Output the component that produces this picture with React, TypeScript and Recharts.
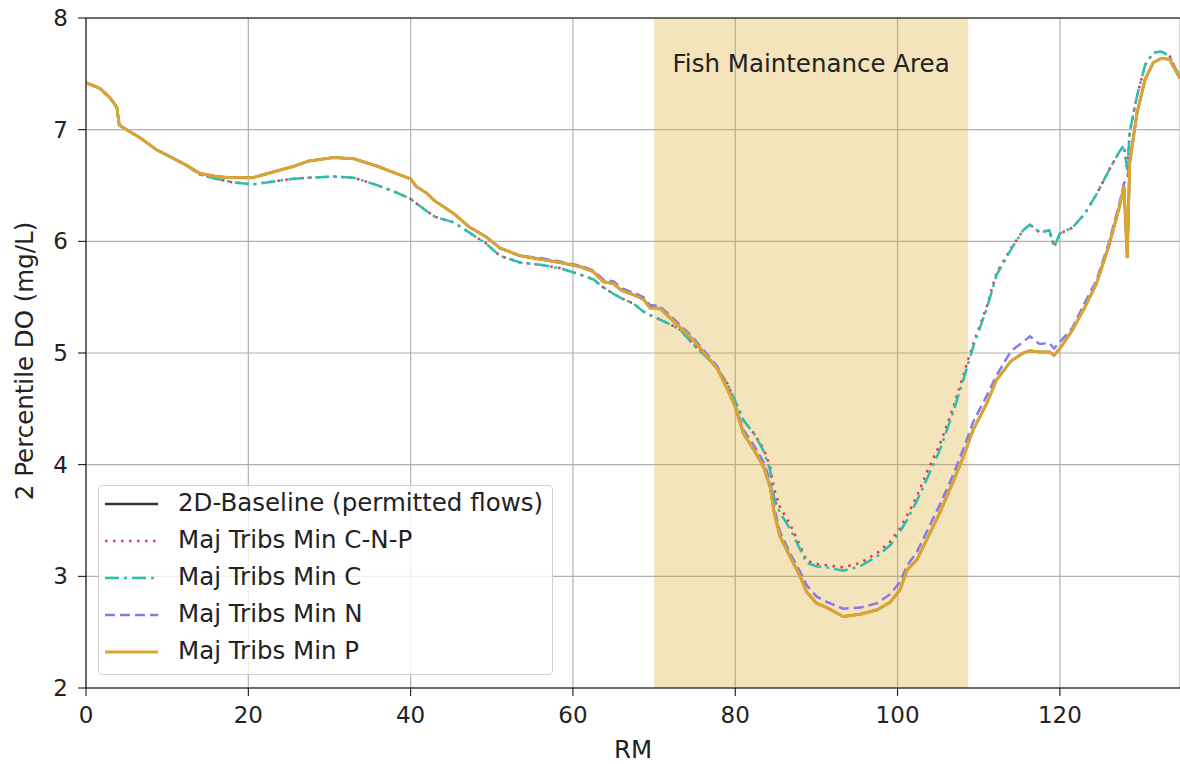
import { CartesianGrid, Line, LineChart, ReferenceArea, ReferenceLine, XAxis, YAxis } from "recharts";

// river mile positions shared by every run
const rm = [
  0, 1.7, 2.9, 3.8, 4.1, 5, 6.6, 8.7, 10.3, 12.4,
  14, 16, 18, 20.5, 22.5, 25.5, 27.5, 30.5, 33, 36,
  38.5, 40, 40.7, 42, 43, 45.3, 47.2, 49.3, 51, 53.5,
  56, 58.4, 61, 62.5, 63.7, 65, 66, 67.5, 68.7, 69.5,
  70.7, 71.6, 73.2, 74.8, 76.5, 77.8, 79, 80, 81, 82.4,
  83.5, 84.3, 84.8, 85.5, 86.8, 88, 88.8, 90, 91.3, 93.3,
  95.4, 97.5, 99.1, 100.3, 101.2, 102.4, 103.6, 105.2, 106.8, 108.1,
  109.3, 111, 112.2, 114, 115.5, 116.3, 117.5, 118.7, 119.3, 120,
  121.5, 123, 124.5, 126, 127.3, 127.9, 128.3, 128.6, 129.5, 130.5,
  131.5, 132.5, 133.5, 134.8,
];

const baseline = [
  7.42, 7.37, 7.29, 7.2, 7.04, 7.0, 6.93, 6.82, 6.76, 6.68,
  6.61, 6.58, 6.57, 6.57, 6.61, 6.67, 6.72, 6.75, 6.74, 6.67,
  6.6, 6.56, 6.49, 6.43, 6.36, 6.25, 6.13, 6.04, 5.94, 5.87,
  5.84, 5.81, 5.77, 5.73, 5.64, 5.62, 5.56, 5.52, 5.48, 5.41,
  5.4, 5.34, 5.23, 5.12, 4.97, 4.86, 4.68, 4.52, 4.28, 4.12,
  3.98, 3.8, 3.57, 3.36, 3.17, 3.0, 2.86, 2.76, 2.72, 2.64,
  2.66, 2.7, 2.77, 2.88, 3.06, 3.15, 3.33, 3.57, 3.84, 4.07,
  4.31, 4.55, 4.76, 4.93, 5.0, 5.02, 5.01, 5.01, 4.98, 5.04,
  5.2, 5.4, 5.62, 5.95, 6.3, 6.49, 5.85, 6.7, 7.15, 7.45,
  7.6, 7.64, 7.63, 7.46,
];

const minCNP = [
  7.42, 7.37, 7.29, 7.2, 7.04, 7.0, 6.93, 6.82, 6.76, 6.68,
  6.6, 6.56, 6.53, 6.51, 6.53, 6.56, 6.57, 6.58, 6.57, 6.5,
  6.43, 6.38, 6.34, 6.27, 6.22, 6.17, 6.08, 5.98, 5.87, 5.81,
  5.79, 5.76, 5.7, 5.66, 5.59, 5.53, 5.49, 5.44, 5.37, 5.34,
  5.3, 5.27, 5.21, 5.08, 4.96, 4.86, 4.73, 4.57, 4.4, 4.27,
  4.14, 3.98, 3.78, 3.62, 3.46, 3.27, 3.14, 3.11, 3.1, 3.08,
  3.12, 3.21, 3.31, 3.43, 3.55, 3.72, 3.93, 4.18, 4.5, 4.8,
  5.08, 5.42, 5.72, 5.94, 6.1, 6.15, 6.08, 6.1, 5.95, 6.07,
  6.12, 6.24, 6.42, 6.63, 6.8, 6.86, 6.64, 6.98, 7.3, 7.58,
  7.69, 7.7, 7.66, 7.47,
];

const minC = [
  7.42, 7.37, 7.29, 7.2, 7.04, 7.0, 6.93, 6.82, 6.76, 6.68,
  6.6, 6.56, 6.53, 6.51, 6.53, 6.56, 6.57, 6.58, 6.57, 6.5,
  6.43, 6.38, 6.34, 6.27, 6.22, 6.17, 6.08, 5.98, 5.87, 5.81,
  5.79, 5.76, 5.7, 5.66, 5.59, 5.53, 5.49, 5.44, 5.37, 5.34,
  5.3, 5.27, 5.21, 5.08, 4.96, 4.86, 4.73, 4.57, 4.4, 4.27,
  4.12, 3.95, 3.7, 3.57, 3.42, 3.24, 3.12, 3.09, 3.08, 3.05,
  3.09, 3.18, 3.28, 3.4, 3.51, 3.68, 3.87, 4.13, 4.46, 4.76,
  5.05, 5.4, 5.7, 5.93, 6.1, 6.15, 6.08, 6.1, 5.95, 6.07,
  6.12, 6.24, 6.42, 6.63, 6.8, 6.86, 6.64, 6.98, 7.3, 7.58,
  7.69, 7.7, 7.66, 7.47,
];

const minN = [
  7.42, 7.37, 7.29, 7.2, 7.04, 7.0, 6.93, 6.82, 6.76, 6.68,
  6.61, 6.58, 6.57, 6.57, 6.61, 6.67, 6.72, 6.75, 6.74, 6.67,
  6.6, 6.56, 6.49, 6.43, 6.36, 6.25, 6.13, 6.04, 5.94, 5.87,
  5.85, 5.82, 5.78, 5.74, 5.66, 5.64, 5.58, 5.54, 5.5, 5.43,
  5.42, 5.36, 5.25, 5.14, 4.99, 4.88, 4.7, 4.54, 4.31, 4.16,
  4.02, 3.85, 3.62, 3.4, 3.2, 3.04, 2.92, 2.82, 2.77, 2.71,
  2.72, 2.76, 2.84, 2.95, 3.1, 3.22, 3.4, 3.64, 3.9, 4.14,
  4.38, 4.62, 4.8, 5.02, 5.1, 5.15, 5.08, 5.09, 5.04, 5.1,
  5.22, 5.44, 5.65, 5.98, 6.33, 6.52, 6.56, 6.72, 7.15, 7.45,
  7.6, 7.64, 7.63, 7.46,
];

const minP = [
  7.42, 7.37, 7.29, 7.2, 7.04, 7.0, 6.93, 6.82, 6.76, 6.68,
  6.61, 6.58, 6.57, 6.57, 6.61, 6.67, 6.72, 6.75, 6.74, 6.67,
  6.6, 6.56, 6.49, 6.43, 6.36, 6.25, 6.13, 6.04, 5.94, 5.87,
  5.84, 5.81, 5.77, 5.73, 5.64, 5.62, 5.56, 5.52, 5.48, 5.4,
  5.4, 5.34, 5.23, 5.12, 4.97, 4.86, 4.68, 4.52, 4.28, 4.12,
  3.98, 3.8, 3.57, 3.36, 3.17, 3.0, 2.86, 2.76, 2.72, 2.64,
  2.66, 2.7, 2.77, 2.88, 3.06, 3.15, 3.33, 3.57, 3.84, 4.07,
  4.31, 4.55, 4.76, 4.93, 5.0, 5.02, 5.01, 5.01, 4.98, 5.04,
  5.2, 5.4, 5.62, 5.95, 6.3, 6.49, 5.85, 6.7, 7.15, 7.45,
  7.6, 7.64, 7.63, 7.46,
];

const xTicks = [0, 20, 40, 60, 80, 100, 120];
const yTicks = [2, 3, 4, 5, 6, 7, 8];
const fishArea = [70, 108.7];

const series = [
  { key: "base", name: "2D-Baseline (permitted flows)", color: "#333333", dash: undefined, width: 2.5 },
  { key: "cnp", name: "Maj Tribs Min C-N-P", color: "#e8364f", dash: "2.5 5.5", width: 2.5 },
  { key: "c", name: "Maj Tribs Min C", color: "#2fbdaf", dash: "14 5 3 5", width: 2.5 },
  { key: "n", name: "Maj Tribs Min N", color: "#8878f0", dash: "10 5", width: 2.5 },
  { key: "p", name: "Maj Tribs Min P", color: "#dba531", dash: undefined, width: 3 },
];

const data = rm.map((x, i) => ({
  rm: x,
  base: baseline[i],
  cnp: minCNP[i],
  c: minC[i],
  n: minN[i],
  p: minP[i],
}));

const FONT = "DejaVu Sans, sans-serif";
const TICK = 23;
const LABEL = 24.5;

function YLabel() {
  return (
    <text x={24} y={361} transform="rotate(-90 24 361)" textAnchor="middle" dominantBaseline="central"
      fontSize={LABEL} fontFamily={FONT} fill="#222">
      2 Percentile DO (mg/L)
    </text>
  );
}

function LegendBox() {
  return (
    <div
      style={{
        position: "absolute", left: 98, top: 485, width: 455, height: 190, boxSizing: "border-box",
        border: "1px solid #d0d0d0", borderRadius: 4, background: "rgba(255,255,255,0.8)",
        fontFamily: FONT, fontSize: LABEL, color: "#222",
      }}
    >
      {series.map((s, i) => (
        <div key={s.key} style={{ position: "absolute", left: 0, top: 17 + i * 37 - 14, height: 28, lineHeight: "28px", display: "flex", alignItems: "center" }}>
          <svg width={79} height={28} style={{ display: "block" }}>
            <line x1={6} x2={59} y1={15} y2={15} stroke={s.color} strokeWidth={s.width} strokeDasharray={s.dash} />
          </svg>
          <span style={{ whiteSpace: "nowrap" }}>{s.name}</span>
        </div>
      ))}
    </div>
  );
}

export default function App() {
  return (
    <div style={{ position: "absolute", left: 0, top: 0, width: 1180, height: 764, background: "#fff" }}>
      <LineChart width={1180} height={764} data={data} margin={{ top: 18, right: 0, bottom: 0, left: 0 }}>
        <ReferenceArea x1={fishArea[0]} x2={fishArea[1]} y1={2} y2={8} fill="#daa520" fillOpacity={0.3} stroke="none"
          label={{ value: "Fish Maintenance Area", position: "insideTop", offset: 37, fontSize: LABEL, fontFamily: FONT, fill: "#222" }} />
        <CartesianGrid stroke="#b0b0b0" strokeWidth={1.2} />
        <XAxis
          dataKey="rm" type="number" domain={[0, 134.8]} ticks={xTicks} allowDataOverflow
          height={76} tickSize={8} tickMargin={11} stroke="#000"
          tick={{ fontSize: TICK, fontFamily: FONT, fill: "#222" }}
          label={{ value: "RM", position: "insideBottom", offset: 6, fontSize: LABEL, fontFamily: FONT, fill: "#222" }}
        />
        <YAxis
          type="number" domain={[2, 8]} ticks={yTicks} allowDataOverflow width={86} tickSize={8} tickMargin={10} stroke="#000"
          tick={{ fontSize: TICK, fontFamily: FONT, fill: "#222" }}
          label={<YLabel />}
        />
        <ReferenceLine y={8} stroke="#000" strokeWidth={1} />
        {series.map((s) => (
          <Line
            key={s.key} dataKey={s.key} name={s.name} type="linear" dot={false} activeDot={false}
            stroke={s.color} strokeWidth={s.width} strokeDasharray={s.dash} isAnimationActive={false}
          />
        ))}
      </LineChart>
      <LegendBox />
    </div>
  );
}
